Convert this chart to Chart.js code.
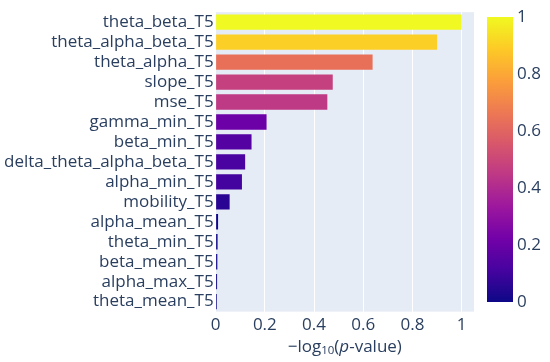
<!DOCTYPE html>
<html>
<head>
<meta charset="utf-8">
<script src="https://cdn.jsdelivr.net/npm/chart.js@4.4.1/dist/chart.umd.min.js"></script>
<style>
  html, body { margin: 0; padding: 0; background: #fff; }
  #wrap { width: 550px; height: 362px; }
</style>
</head>
<body>
<div id="wrap"><canvas id="chart"></canvas></div>
<script>
// features, top to bottom
const features = [
    'theta_beta_T5', 'theta_alpha_beta_T5', 'theta_alpha_T5', 'slope_T5', 'mse_T5',
    'gamma_min_T5', 'beta_min_T5', 'delta_theta_alpha_beta_T5', 'alpha_min_T5', 'mobility_T5',
    'alpha_mean_T5', 'theta_min_T5', 'beta_mean_T5', 'alpha_max_T5', 'theta_mean_T5'
];
// -log10(p-value)
const scores = [1.0, 0.90, 0.638, 0.476, 0.454, 0.207, 0.146, 0.120, 0.107, 0.057,
    0.010, 0.008, 0.007, 0.006, 0.005];
const xTicks = [0, 0.2, 0.4, 0.6, 0.8, 1];
const colorbarTicks = [0, 0.2, 0.4, 0.6, 0.8, 1];

// plotly "Plasma" colour scale
const plasma = ['#0d0887', '#46039f', '#7201a8', '#9c179e', '#bd3786',
    '#d8576b', '#ed7953', '#fb9f3a', '#fdca26', '#f0f921'];

function hexToRgb(h) {
    return [parseInt(h.slice(1, 3), 16), parseInt(h.slice(3, 5), 16), parseInt(h.slice(5, 7), 16)];
}
function plasmaColor(v) {
    v = Math.max(0, Math.min(1, v));
    const pos = v * (plasma.length - 1);
    const i = Math.min(Math.floor(pos), plasma.length - 2);
    const t = pos - i;
    const a = hexToRgb(plasma[i]), b = hexToRgb(plasma[i + 1]);
    const c = a.map((x, k) => Math.round(x + (b[k] - x) * t));
    return 'rgb(' + c.join(',') + ')';
}

const FONT = '"Open Sans", "DejaVu Sans", sans-serif';
const TEXT = '#2a3f5f';

// plot background
const plotBg = {
    id: 'plotBg',
    beforeDraw(chart) {
        const { ctx, chartArea: a } = chart;
        ctx.save();
        ctx.fillStyle = '#E5ECF6';
        ctx.fillRect(a.left, a.top, a.right - a.left, a.bottom - a.top);
        ctx.restore();
    }
};

// colour bar and x-axis title
const extras = {
    id: 'extras',
    afterDraw(chart) {
        const { ctx, chartArea: a } = chart;
        ctx.save();
        // colour bar
        const cbX = 487, cbW = 26, cbTop = 17, cbBot = 302;
        const g = ctx.createLinearGradient(0, cbBot, 0, cbTop);
        plasma.forEach((c, i) => g.addColorStop(i / (plasma.length - 1), c));
        ctx.fillStyle = g;
        ctx.fillRect(cbX, cbTop, cbW, cbBot - cbTop);
        ctx.fillStyle = TEXT;
        ctx.font = '17px ' + FONT;
        ctx.textAlign = 'left';
        ctx.textBaseline = 'middle';
        colorbarTicks.forEach(t => {
            const y = cbBot - t * (cbBot - cbTop);
            ctx.fillText(String(t), cbX + cbW + 4, y);
        });

        // x-axis title: −log10(p-value)
        const parts = [
            { s: '\u2212log', f: '17px ' + FONT, dy: 0 },
            { s: '10', f: '11.5px ' + FONT, dy: 4 },
            { s: '(', f: '17px ' + FONT, dy: 0 },
            { s: 'p', f: 'italic 17px ' + FONT, dy: 0 },
            { s: '-value)', f: '17px ' + FONT, dy: 0 }
        ];
        let total = 0;
        parts.forEach(p => { ctx.font = p.f; p.w = ctx.measureText(p.s).width; total += p.w; });
        let x = (a.left + a.right) / 2 - total / 2;
        const y = 347;
        ctx.textBaseline = 'middle';
        parts.forEach(p => {
            ctx.font = p.f;
            ctx.fillText(p.s, x, y + p.dy);
            x += p.w;
        });
        ctx.restore();
    }
};

new Chart(document.getElementById('chart'), {
    type: 'bar',
    data: {
        labels: features,
        datasets: [{
            data: scores,
            backgroundColor: (c) => plasmaColor(c.raw),
            borderWidth: 0,
            barPercentage: 0.77,
            categoryPercentage: 1
        }]
    },
    options: {
        indexAxis: 'y',
        responsive: true,
        maintainAspectRatio: false,
        animation: false,
        layout: { padding: { left: 2, right: 76, top: 9, bottom: 24 } },
        plugins: {
            legend: { display: false },
            tooltip: { enabled: false }
        },
        scales: {
            x: {
                min: 0,
                max: 1.05,
                afterBuildTicks(axis) { axis.ticks = xTicks.map(v => ({ value: v })); },
                grid: { color: '#ffffff', lineWidth: 1, drawTicks: false },
                border: { display: false },
                ticks: {
                    color: TEXT,
                    padding: 3,
                    font: { family: FONT, size: 17 },
                    callback: (v) => String(v)
                }
            },
            y: {
                grid: { display: false, drawTicks: false },
                border: { display: false },
                ticks: {
                    color: TEXT,
                    padding: 2,
                    autoSkip: false,
                    font: { family: FONT, size: 17 }
                }
            }
        }
    },
    plugins: [plotBg, extras]
});
</script>
</body>
</html>
